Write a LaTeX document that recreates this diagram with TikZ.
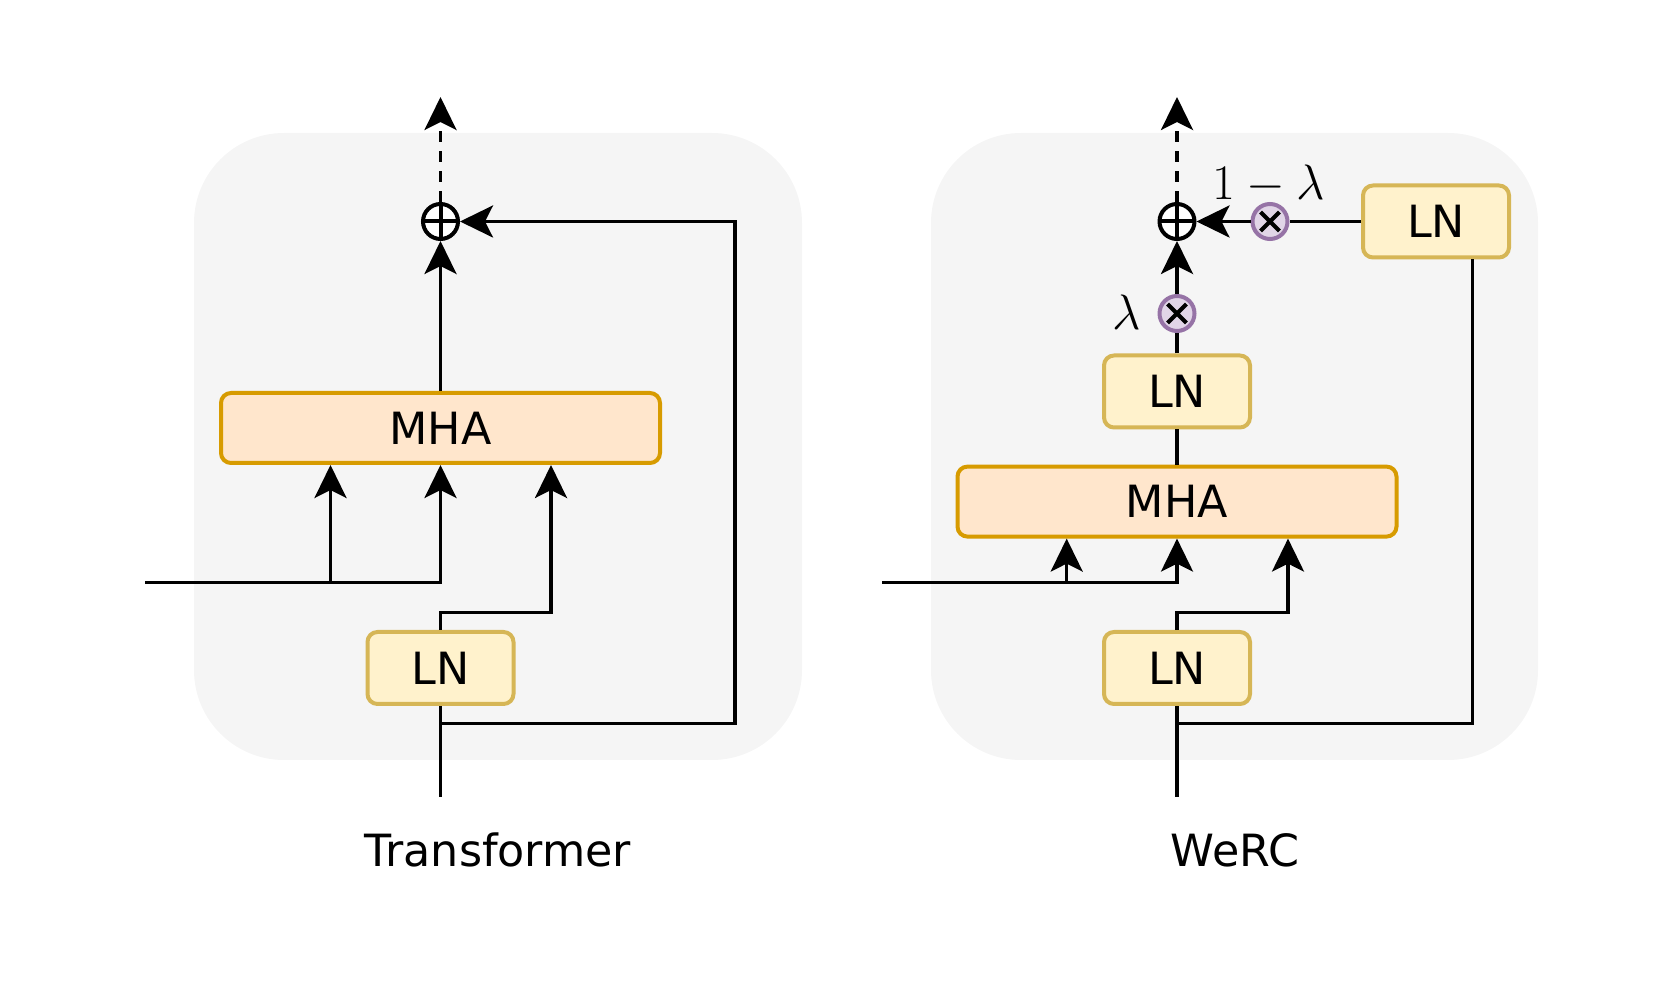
\documentclass[tikz,border=0pt]{standalone}
\usepackage{fontspec}
\newfontfamily\dvsans{DejaVu Sans}
\usetikzlibrary{arrows.meta, positioning}

\definecolor{panelgrey}{HTML}{F5F5F5}
\definecolor{mhafill}{HTML}{FFE6CC}
\definecolor{mhadraw}{HTML}{D79B00}
\definecolor{lnfill}{HTML}{FFF2CC}
\definecolor{lndraw}{HTML}{D6B656}
\definecolor{mulfill}{HTML}{E1D5E7}
\definecolor{muldraw}{HTML}{9673A6}

\begin{document}
\begin{tikzpicture}[
		x=0.5pt, y=-0.5pt,
		line width=1.75pt,
		>={Stealth[length=16.5pt, width=16pt, inset=4pt]},
		panel/.style={fill=panelgrey, draw=none, rounded corners=45pt},
		mha/.style={rectangle, rounded corners=5pt, line width=2pt, draw=mhadraw, fill=mhafill, minimum width=219.5pt, minimum height=35pt, font=\dvsans\fontsize{22.2}{26}\selectfont},
		ln/.style={rectangle, rounded corners=5pt, line width=2pt, draw=lndraw, fill=lnfill, minimum width=73pt, minimum height=36pt, font=\dvsans\fontsize{22.2}{26}\selectfont},
		addop/.style={circle, line width=2pt, draw=black, fill=white, minimum size=17.5pt, inner sep=0pt,
			path picture={\draw[black, line width=2pt] (path picture bounding box.west) -- (path picture bounding box.east)
				(path picture bounding box.north) -- (path picture bounding box.south);}},
		mulop/.style={circle, line width=2pt, draw=muldraw, fill=mulfill, minimum size=17.5pt, inner sep=0pt,
			path picture={\draw[black, line width=2pt] ([shift={(-4.7pt,-4.7pt)}]path picture bounding box.center) -- ([shift={(4.7pt,4.7pt)}]path picture bounding box.center)
				([shift={(-4.7pt,4.7pt)}]path picture bounding box.center) -- ([shift={(4.7pt,-4.7pt)}]path picture bounding box.center);}},
		caption/.style={anchor=base, inner sep=0pt, font=\dvsans\fontsize{22.2}{26}\selectfont},
		weight/.style={anchor=base, inner sep=0pt, font=\fontsize{24.88}{30}\selectfont},
		skip/.style={dash pattern=on 5.5pt off 4.5pt}
		]
		\useasboundingbox (0,0) rectangle (1661,983);
		
		% Left panel - Transformer
		\fill[panel] (194,133) rectangle (802,760);
		\node[mha] (mhaL) at (440.5,428) {MHA};
		\node[ln] (lnL) at (440.5,668) {LN};
		\node[addop] (addL) at (440.5,221.5) {};
		\coordinate (outL) at (440.5,97);
		\coordinate (srcL) at (440.5,797);
		\coordinate (inL) at (145,582.6);
		\coordinate (qL) at (330.5,582.6);
		\coordinate (kL) at (551,612.3);
		\coordinate (resL) at (735,723.5);
		\node[caption] (capL) at (498,866.5) {Transformer};
		
		\draw (srcL) -- (lnL);
		\draw[->] (inL) -| (mhaL.south);
		\draw[->] (qL) -- (qL |- mhaL.south);
		\draw[->] (lnL) |- (kL) -- (kL |- mhaL.south);
		\draw[->] (mhaL) -- (addL);
		\draw[->] (srcL |- resL) -- (resL) |- (addL);
		\draw[->, skip] (addL) -- (outL);
		
		% Right panel - WeRC
		\fill[panel] (931,133) rectangle (1538,760);
		\node[mha] (mhaR) at (1177,501.6) {MHA};
		\node[ln] (lnR) at (1177,668) {LN};
		\node[ln] (lnT) at (1177,391.5) {LN};
		\node[ln] (lnS) at (1436,221.5) {LN};
		\node[mulop] (mulB) at (1177,313.5) {};
		\node[mulop] (mulA) at (1270,221.5) {};
		\node[addop] (addR) at (1177,221.5) {};
		\node[weight] (lamB) at (1127,330) {$\lambda$};
		\node[weight] (lamA) at (1269,200) {$1-\lambda$};
		\coordinate (outR) at (1177,97);
		\coordinate (srcR) at (1177,797);
		\coordinate (inR) at (882,582.6);
		\coordinate (qR) at (1066.7,582.6);
		\coordinate (kR) at (1288,612.3);
		\coordinate (resR) at (1472.7,723.5);
		\node[caption] (capR) at (1235,866.5) {WeRC};
		
		\draw (srcR) -- (lnR);
		\draw[->] (inR) -| (mhaR.south);
		\draw[->] (qR) -- (qR |- mhaR.south);
		\draw[->] (lnR) |- (kR) -- (kR |- mhaR.south);
		\draw (mhaR) -- (lnT);
		\draw (lnT) -- (mulB);
		\draw[->] (mulB) -- (addR);
		\draw (srcR |- resR) -- (resR) -- (resR |- lnS.south);
		\draw (lnS) -- (mulA);
		\draw[->] (mulA) -- (addR);
		\draw[->, skip] (addR) -- (outR);
		
	\end{tikzpicture}
\end{document}
